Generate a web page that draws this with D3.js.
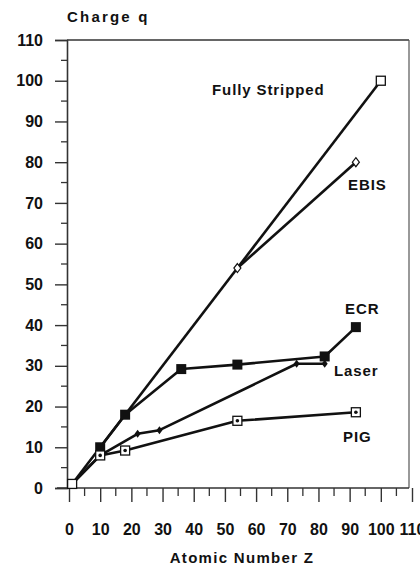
<!DOCTYPE html>
<html>
<head>
<meta charset="utf-8">
<script src="https://cdn.jsdelivr.net/npm/d3@7"></script>
<style>
  html, body { margin: 0; padding: 0; background: #fff; }
  svg { display: block; }
  text { font-family: "Liberation Sans", Arial, sans-serif; fill: #111; }
</style>
</head>
<body>
<svg id="chart" width="420" height="568"></svg>
<script>
// Charge state q reached by each ion source, versus atomic number Z
const xTicks = [0, 10, 20, 30, 40, 50, 60, 70, 80, 90, 100, 110];
const yTicks = [0, 10, 20, 30, 40, 50, 60, 70, 80, 90, 100, 110];

const fullyStripped = [[1, 1], [100, 100]];
const ebis = [[54, 54], [92, 80]];
const ecr = [[10, 10], [18, 18], [36, 29.2], [54, 30.3], [82, 32.3], [92, 39.5]];
const laser = [[1, 1], [10, 8], [22, 13.3], [29, 14.2], [73, 30.5], [82, 30.5]];
const pig = [[1, 1], [10, 8], [18, 9.2], [54, 16.5], [92, 18.6]];

const seriesLabels = ["Fully Stripped", "EBIS", "ECR", "Laser", "PIG"];

const svg = d3.select("#chart");

const x = d3.scaleLinear().domain([0, 110]).range([69, 412]);
const y = d3.scaleLinear().domain([0, 110]).range([488, 40]);

// Frame: top and right edges
svg.append("line").attr("x1", 67).attr("x2", 409).attr("y1", y(110)).attr("y2", y(110))
  .attr("stroke", "#333").attr("stroke-width", 1.4);
svg.append("line").attr("x1", 409).attr("x2", 409).attr("y1", y(110)).attr("y2", y(0))
  .attr("stroke", "#555").attr("stroke-width", 1.2);

// Y axis
const yMinor = d3.range(5, 110, 10);
const yAxis = d3.axisLeft(y).tickValues(yTicks).tickSize(12).tickPadding(12)
  .tickFormat(d3.format("d"));
const gy = svg.append("g").attr("transform", "translate(67,0)").call(yAxis);
gy.select(".domain").attr("stroke", "#333").attr("stroke-width", 1.6);
gy.selectAll(".tick line").attr("stroke", "#333").attr("stroke-width", 1.4);
gy.selectAll(".tick text").attr("font-size", 16).attr("font-weight", "bold")
  .attr("fill", "#111").attr("font-family", "Liberation Sans, Arial, sans-serif");
gy.selectAll(".minor").data(yMinor).enter().append("line")
  .attr("x1", -6).attr("x2", 0).attr("y1", d => y(d)).attr("y2", d => y(d))
  .attr("stroke", "#333").attr("stroke-width", 1.3);

// X axis
const xMinor = d3.range(5, 110, 10);
const xAxis = d3.axisBottom(x).tickValues(xTicks).tickSize(14).tickPadding(22)
  .tickFormat(d3.format("d"));
const gx = svg.append("g").attr("transform", `translate(0,${y(0)})`).call(xAxis);
gx.select(".domain").attr("stroke", "#333").attr("stroke-width", 1.6)
  .attr("d", `M57,0H409`);
gx.selectAll(".tick line").attr("stroke", "#333").attr("stroke-width", 1.4);
gx.selectAll(".tick text").attr("font-size", 16).attr("font-weight", "bold")
  .attr("fill", "#111").attr("font-family", "Liberation Sans, Arial, sans-serif");
gx.selectAll(".minor").data(xMinor).enter().append("line")
  .attr("x1", d => x(d)).attr("x2", d => x(d)).attr("y1", 0).attr("y2", 8)
  .attr("stroke", "#333").attr("stroke-width", 1.3);

// Axis titles
svg.append("text").attr("x", 67).attr("y", 22).attr("font-size", 15)
  .attr("font-weight", "bold").attr("letter-spacing", 2.2).text("Charge q");
svg.append("text").attr("x", 242).attr("y", 563).attr("text-anchor", "middle")
  .attr("font-size", 15).attr("font-weight", "bold").attr("letter-spacing", 1.3)
  .text("Atomic Number Z");

// Series lines
const line = d3.line().x(d => x(d[0])).y(d => y(d[1]));
[fullyStripped, ebis, ecr, laser, pig].forEach(s => {
  svg.append("path").attr("d", line(s)).attr("fill", "none")
    .attr("stroke", "#111").attr("stroke-width", 2.6).attr("stroke-linejoin", "round");
});

// Markers
const sq = 9;
svg.selectAll(".fs").data(fullyStripped).enter().append("rect")
  .attr("x", d => x(d[0]) - sq / 2).attr("y", d => y(d[1]) - sq / 2)
  .attr("width", sq).attr("height", sq).attr("fill", "#fff")
  .attr("stroke", "#111").attr("stroke-width", 1.3);

svg.selectAll(".ebis").data(ebis).enter().append("path")
  .attr("transform", d => `translate(${x(d[0])},${y(d[1])})`)
  .attr("d", "M0,-4.5L3.5,0L0,4.5L-3.5,0Z").attr("fill", "#fff")
  .attr("stroke", "#111").attr("stroke-width", 1.2);

svg.selectAll(".ecr").data(ecr).enter().append("rect")
  .attr("x", d => x(d[0]) - 5).attr("y", d => y(d[1]) - 5)
  .attr("width", 10).attr("height", 10).attr("fill", "#111");

svg.selectAll(".laser").data(laser.slice(1)).enter().append("path")
  .attr("transform", d => `translate(${x(d[0])},${y(d[1])})`)
  .attr("d", "M0,-4L3,0L0,4L-3,0Z").attr("fill", "#111");

const pigPts = pig.slice(1);
svg.selectAll(".pig").data(pigPts).enter().append("rect")
  .attr("x", d => x(d[0]) - 4.5).attr("y", d => y(d[1]) - 4.5)
  .attr("width", 9).attr("height", 9).attr("fill", "#fff")
  .attr("stroke", "#111").attr("stroke-width", 1.3);
svg.selectAll(".pigdot").data(pigPts).enter().append("circle")
  .attr("cx", d => x(d[0])).attr("cy", d => y(d[1])).attr("r", 1.8).attr("fill", "#111");

// Series labels
const labelPos = [[212, 95], [348, 190], [345, 314], [334, 376], [343, 442]];
seriesLabels.forEach((t, i) => {
  svg.append("text").attr("x", labelPos[i][0]).attr("y", labelPos[i][1])
    .attr("font-size", 15).attr("font-weight", "bold").attr("letter-spacing", 0.9).text(t);
});
</script>
</body>
</html>
